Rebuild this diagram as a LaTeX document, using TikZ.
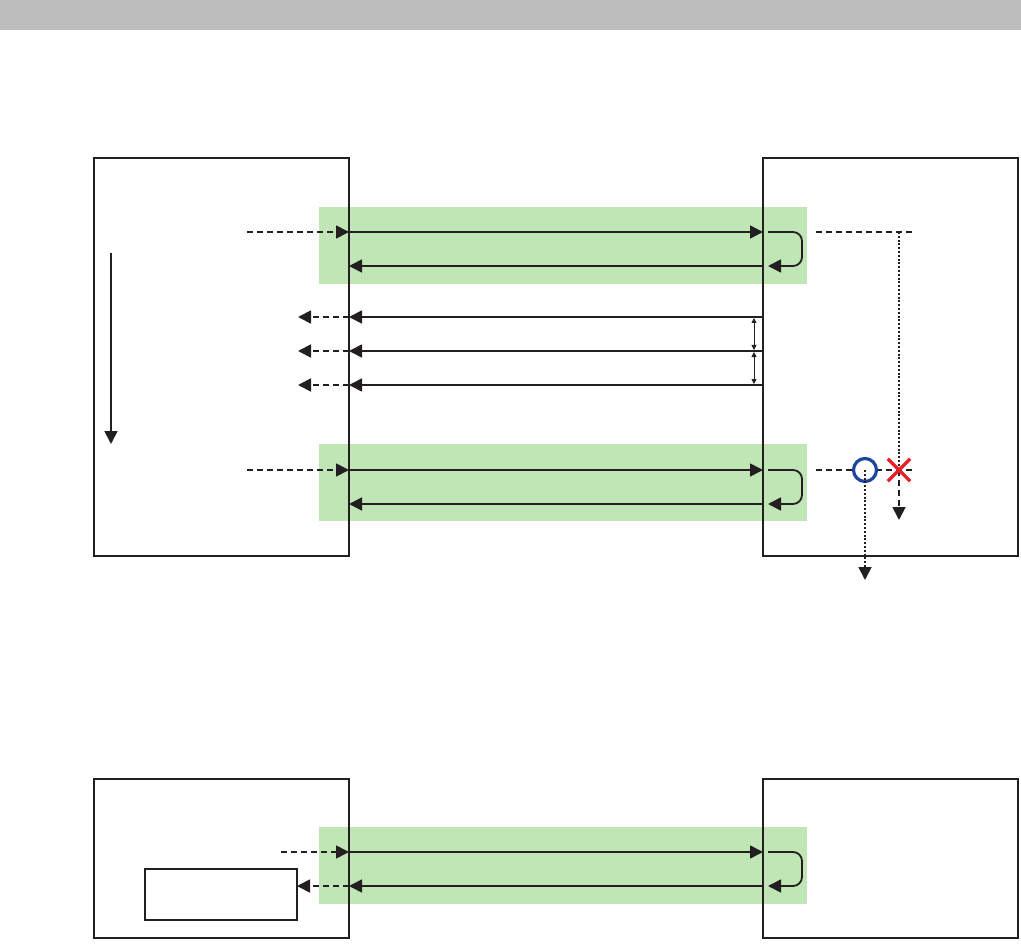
\documentclass[tikz,border=0pt]{standalone}
\usetikzlibrary{arrows.meta}
\definecolor{bandgreen}{HTML}{C0E6B6}
\definecolor{bargray}{HTML}{BCBCBC}
\definecolor{okblue}{HTML}{1E46A0}
\definecolor{ngred}{HTML}{E8202A}
\definecolor{ink}{HTML}{231F20}
\begin{document}
\begin{tikzpicture}[x=1pt,y=-1pt,
  box/.style={draw=ink, line width=1.6pt, inner sep=0pt, outer sep=0pt, anchor=north west},
  band/.style={fill=bandgreen, draw=none, inner sep=0pt, outer sep=0pt, anchor=north west, minimum width=488pt, minimum height=77pt},
  tip/.style={-{Triangle[length=13pt,width=13pt]}},
  sig/.style={draw=ink, line width=1.8pt, tip},
  dsig/.style={sig, dash pattern=on 6pt off 4pt},
  dotsig/.style={sig, dash pattern=on 2pt off 1.8pt},
  loopsig/.style={sig, rounded corners=9pt},
  gap/.style={draw=ink, line width=0.9pt, {Triangle[length=5pt,width=5pt]}-{Triangle[length=5pt,width=5pt]}}
]
\useasboundingbox (0,0) rectangle (1021,944);
% header bar
\fill[bargray] (0,0) rectangle (1021,30);

% green bands
\node[band] (band1) at (319,207) {};
\node[band] (band2) at (319,444) {};
\node[band] (band3) at (319,827) {};

% boxes
\node[box, minimum width=255pt, minimum height=398pt] (L) at (94,158) {};
\node[box, minimum width=255pt, minimum height=398pt] (R) at (763,158) {};
\node[box, minimum width=255pt, minimum height=159pt] (LB) at (94,779) {};
\node[box, minimum width=255pt, minimum height=159pt] (RB) at (763,779) {};
\node[box, draw=ink, line width=1.2pt, minimum width=152pt, minimum height=51pt] (S) at (145,869) {};

% coordinates
\foreach \y/\n in {232/a,266/b,317/c,351/d,385/e,470/f,504/g,852/h,886/i}{
  \coordinate (Lx\n) at (349,\y);
  \coordinate (Rx\n) at (763,\y);
}
\coordinate (ain) at (247,232);
\coordinate (fin) at (247,470);
\coordinate (hin) at (281,852);
\foreach \y/\n in {317/c,351/d,385/e}{\coordinate (out\n) at (298,\y);}

% top exchange
\draw[dsig] (ain) -- (Lxa);
\draw[sig] (Lxa) -- (Rxa);
\draw[sig] (Rxb) -- (Lxb);
\draw[loopsig] (768,232) -- (802,232) -- (802,266) -- (768,266);

% three replies
\foreach \n in {c,d,e}{
  \draw[sig] (Rx\n) -- (Lx\n);
  \draw[dsig] (Lx\n) -- (out\n);
}
\coordinate (g1) at (754,318);
\coordinate (g2) at (754,350);
\coordinate (g3) at (754,352);
\coordinate (g4) at (754,384);
\draw[gap] (g1) -- (g2);
\draw[gap] (g3) -- (g4);

% time arrow
\coordinate (t0) at (111,253);
\coordinate (t1) at (111,444);
\draw[sig] (t0) -- (t1);

% second exchange
\draw[dsig] (fin) -- (Lxf);
\draw[sig] (Lxf) -- (Rxf);
\draw[sig] (Rxg) -- (Lxg);
\draw[loopsig] (768,470) -- (802,470) -- (802,504) -- (768,504);

% right side dashed/dotted paths
\coordinate (r1s) at (816,232);
\coordinate (r1e) at (912,232);
\coordinate (r1c) at (899,232);
\coordinate (xm) at (899,470);
\coordinate (xend) at (899,520);
\draw[draw=ink, line width=1.8pt, dash pattern=on 6pt off 4pt] (r1s) -- (r1e);
\draw[draw=ink, line width=1.8pt, dash pattern=on 2pt off 1.8pt] (r1c) -- (xm);
\draw[dsig] (xm) -- (xend);
\coordinate (r2s) at (816,470);
\coordinate (r2e) at (912,470);
\draw[draw=ink, line width=1.8pt, dash pattern=on 6pt off 4pt] (r2s) -- (r2e);
\node[circle, draw=okblue, line width=3.2pt, minimum size=23pt, inner sep=0pt, fill=white] (ok) at (865,470) {};
\coordinate (okend) at (865,580);
\draw[dotsig] (ok.center) -- (okend);
\node[inner sep=0pt, minimum size=22pt] (ng) at (899,470) {};
\draw[ngred, line width=3.4pt] (ng.north west) -- (ng.south east) (ng.north east) -- (ng.south west);

% bottom exchange
\draw[dsig] (hin) -- (Lxh);
\draw[sig] (Lxh) -- (Rxh);
\draw[sig] (Rxi) -- (Lxi);
\draw[loopsig] (768,852) -- (802,852) -- (802,886) -- (768,886);
\draw[dsig] (Lxi) -- (S.east |- Lxi);
\end{tikzpicture}
\end{document}
